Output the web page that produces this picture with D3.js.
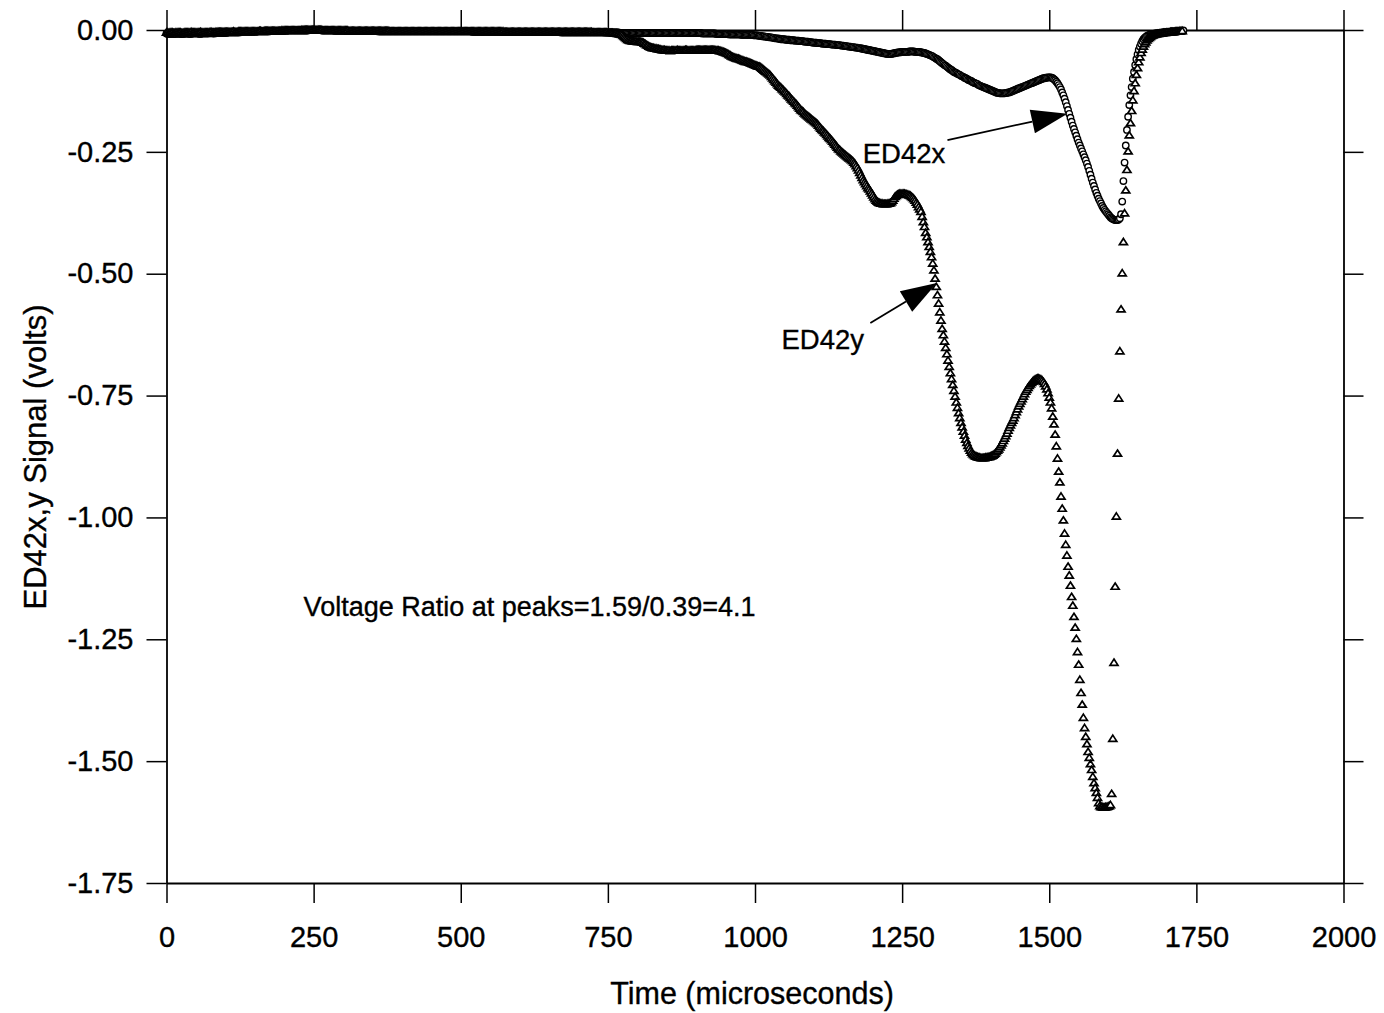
<!DOCTYPE html>
<html>
<head>
<meta charset="utf-8">
<script src="https://cdn.jsdelivr.net/npm/d3@7"></script>
<style>
  html, body { margin: 0; padding: 0; background: #fff; }
  svg { display: block; }
  text { font-family: "Liberation Sans", Arial, Helvetica, sans-serif; fill: #000; stroke: #000; stroke-width: 0.35px; }
</style>
</head>
<body>
<svg id="chart" width="1384" height="1013"></svg>
<script>
// Digitizer record: one sample every 2 microseconds, starting at t = 0.
const sampleIntervalUs = 2;

// ED42x probe signal, millivolts
const ed42xMv = [
  -7,-8,-8,-8,-7,-8,-8,-8,-8,-7,-7,-8,-8,-8,-8,-8,-7,-7,-7,-8,-8,-8,-7,-7,-7,
  -7,-7,-7,-8,-8,-7,-7,-7,-7,-7,-7,-7,-6,-6,-7,-7,-7,-6,-6,-6,-6,-6,-6,-6,-6,
  -6,-6,-5,-5,-5,-5,-5,-5,-5,-5,-5,-5,-5,-4,-4,-4,-4,-4,-4,-4,-4,-4,-4,-4,-4,
  -4,-4,-3,-3,-3,-3,-3,-3,-3,-3,-3,-3,-3,-2,-2,-2,-2,-2,-2,-2,-2,-2,-2,-2,-2,
  -2,-2,-2,-1,-1,-1,-1,-1,-1,-1,-1,-1,-1,-1,-1,-1,-1,-1,-1,-1,-1,0,0,0,0,
  0,0,0,0,0,0,0,-1,-1,-1,-1,-1,-1,-1,-1,-1,-1,-1,-2,-2,-2,-2,-2,-2,-2,
  -2,-2,-2,-2,-2,-2,-2,-2,-2,-2,-2,-2,-2,-2,-2,-2,-2,-2,-2,-2,-2,-2,-2,-2,-2,
  -2,-2,-2,-2,-2,-3,-3,-3,-3,-3,-3,-3,-3,-3,-3,-3,-3,-3,-3,-3,-3,-3,-3,-3,-3,
  -3,-3,-3,-3,-3,-3,-3,-3,-3,-3,-3,-3,-3,-3,-3,-3,-3,-3,-3,-3,-3,-3,-3,-3,-3,
  -3,-3,-3,-3,-3,-3,-3,-3,-3,-3,-3,-3,-3,-3,-3,-3,-3,-3,-3,-3,-3,-3,-3,-3,-3,
  -3,-3,-3,-3,-3,-3,-3,-3,-3,-3,-4,-4,-4,-4,-4,-4,-4,-4,-4,-4,-4,-4,-4,-4,-4,
  -4,-4,-4,-4,-4,-4,-4,-4,-4,-4,-4,-4,-4,-4,-4,-4,-4,-4,-4,-4,-4,-4,-4,-4,-4,
  -4,-4,-4,-4,-4,-4,-4,-4,-4,-4,-4,-4,-4,-4,-4,-4,-4,-4,-4,-4,-4,-4,-4,-4,-4,
  -4,-4,-4,-4,-4,-4,-4,-4,-4,-4,-5,-5,-5,-5,-5,-5,-5,-5,-5,-5,-5,-5,-5,-5,-5,
  -5,-5,-5,-5,-5,-5,-5,-5,-5,-5,-5,-5,-5,-5,-5,-5,-5,-5,-5,-5,-5,-5,-5,-5,-5,
  -5,-5,-5,-5,-5,-5,-5,-5,-5,-5,-6,-6,-6,-6,-6,-6,-6,-6,-6,-6,-6,-6,-6,-6,-6,
  -6,-6,-6,-6,-6,-6,-6,-6,-6,-6,-6,-6,-6,-6,-6,-6,-6,-6,-6,-6,-6,-6,-6,-6,-6,
  -6,-6,-6,-6,-6,-6,-6,-6,-6,-6,-6,-6,-6,-6,-6,-6,-6,-6,-6,-6,-6,-6,-6,-6,-6,
  -6,-6,-6,-6,-6,-7,-7,-7,-7,-7,-7,-7,-7,-7,-7,-7,-7,-8,-8,-8,-8,-8,-8,-8,-8,
  -8,-8,-8,-9,-9,-9,-9,-9,-9,-9,-9,-9,-9,-10,-10,-10,-10,-10,-10,-10,-10,-10,-10,-10,-11,
  -11,-11,-11,-12,-12,-12,-13,-13,-13,-14,-14,-14,-15,-15,-15,-16,-16,-17,-17,-17,-18,-18,-19,-19,-19,
  -19,-20,-20,-20,-20,-21,-21,-21,-21,-22,-22,-22,-22,-23,-23,-23,-23,-24,-24,-24,-24,-25,-25,-25,-26,
  -26,-26,-26,-27,-27,-27,-27,-28,-28,-28,-28,-29,-29,-29,-29,-30,-30,-30,-30,-31,-31,-31,-31,-32,-32,
  -32,-33,-33,-33,-34,-34,-34,-35,-35,-35,-36,-36,-36,-37,-37,-38,-38,-39,-39,-40,-40,-41,-41,-42,-42,
  -43,-43,-44,-44,-45,-45,-46,-46,-47,-47,-48,-48,-49,-49,-49,-49,-49,-48,-48,-47,-47,-46,-46,-46,-45,
  -45,-45,-45,-45,-45,-45,-44,-44,-44,-44,-44,-45,-45,-45,-45,-45,-46,-46,-47,-47,-48,-49,-50,-51,-52,
  -53,-54,-56,-57,-59,-60,-62,-64,-66,-68,-70,-72,-73,-75,-77,-79,-81,-82,-84,-86,-87,-88,-90,-91,-92,
  -94,-95,-96,-98,-99,-100,-102,-103,-104,-105,-107,-108,-109,-110,-111,-113,-114,-115,-116,-117,-118,-119,-120,-121,-122,
  -123,-124,-125,-126,-127,-128,-129,-129,-130,-130,-130,-130,-130,-129,-129,-128,-128,-127,-126,-125,-124,-123,-122,-121,-120,
  -119,-118,-117,-116,-115,-114,-113,-112,-111,-110,-109,-108,-107,-106,-105,-104,-103,-102,-101,-100,-99,-99,-98,-98,-97,
  -97,-97,-98,-99,-101,-103,-106,-109,-113,-117,-122,-128,-134,-141,-148,-156,-164,-172,-180,-188,-196,-203,-210,-217,-224,
  -231,-237,-243,-249,-255,-261,-267,-274,-281,-289,-297,-305,-313,-320,-327,-334,-340,-346,-351,-356,-361,-365,-369,-372,-375,
  -378,-381,-384,-386,-388,-389,-390,-390,-390,-389,-386,-378,-352,-310,-272,-237,-205,-178,-154,-134,-117,-100,-86,-72,-60,
  -50,-41,-34,-28,-23,-19,-16,-14,-12,-11,-10,-9,-9,-8,-8,-7,-7,-7,-6,-6,-6,-5,-5,-5,-5,
  -4,-4,-4,-4,-3,-3,-3,-3,-3,-2,-2,-2,-2,-2,-1
];

// ED42y probe signal, millivolts
const ed42yMv = [
  -5,-5,-6,-5,-5,-5,-6,-6,-5,-5,-5,-5,-5,-6,-6,-5,-5,-5,-5,-5,-5,-4,-5,-5,-5,
  -5,-5,-5,-5,-4,-5,-5,-5,-5,-5,-5,-5,-4,-4,-5,-5,-5,-4,-4,-4,-4,-4,-4,-4,-4,
  -4,-4,-4,-4,-4,-4,-4,-3,-4,-4,-4,-3,-3,-3,-3,-3,-3,-3,-3,-3,-3,-3,-3,-3,-3,
  -3,-3,-3,-3,-2,-2,-3,-3,-2,-2,-2,-2,-2,-2,-2,-2,-2,-2,-2,-2,-2,-2,-2,-1,-1,
  -1,-1,-1,-1,-1,-1,-1,-1,-1,-1,-1,-1,-1,-1,-1,0,0,0,0,0,0,0,0,0,0,
  0,0,0,0,0,0,0,0,-1,-1,-1,-1,-1,-1,-1,-1,-1,-1,-1,-1,-1,-1,-1,-1,-1,
  -1,-1,-1,-1,-1,-2,-2,-2,-2,-2,-2,-2,-2,-2,-2,-2,-2,-2,-2,-2,-2,-2,-2,-2,-2,
  -2,-2,-2,-2,-2,-2,-2,-2,-2,-2,-2,-2,-2,-2,-2,-3,-3,-3,-3,-3,-3,-3,-3,-3,-3,
  -3,-3,-3,-3,-3,-3,-3,-3,-3,-3,-3,-3,-3,-3,-3,-3,-3,-3,-3,-3,-3,-3,-3,-3,-3,
  -3,-3,-3,-3,-3,-3,-3,-3,-3,-3,-3,-3,-3,-3,-3,-3,-3,-3,-3,-3,-3,-3,-3,-3,-3,
  -3,-3,-3,-3,-3,-3,-3,-3,-3,-3,-3,-3,-3,-3,-3,-3,-3,-3,-3,-3,-3,-3,-3,-3,-3,
  -3,-3,-3,-3,-3,-3,-3,-3,-3,-3,-3,-3,-4,-4,-4,-4,-4,-4,-4,-4,-4,-4,-4,-4,-4,
  -4,-4,-4,-4,-4,-4,-4,-4,-4,-4,-4,-4,-4,-4,-4,-4,-4,-4,-4,-4,-4,-4,-4,-4,-4,
  -4,-4,-4,-4,-4,-4,-4,-4,-4,-4,-4,-4,-4,-4,-4,-4,-4,-4,-4,-4,-4,-4,-4,-4,-4,
  -4,-4,-4,-4,-4,-4,-4,-4,-4,-4,-4,-4,-5,-5,-5,-5,-5,-5,-5,-5,-5,-5,
  -5,-5,-5,-6,-6,-6,-6,-6,-7,-7,-7,-8,-8,-9,-9,-10,-12,-14,-16,-18,-20,-21,-22,-22,-23,
  -23,-23,-23,-24,-24,-24,-24,-25,-26,-28,-29,-31,-32,-34,-35,-36,-37,-37,-38,-38,-39,-39,-40,-40,-41,
  -41,-41,-42,-42,-42,-42,-43,-42,-42,-42,-42,-42,-41,-42,-42,-42,-42,-42,-42,-41,-41,-42,-42,-42,-42,
  -42,-42,-42,-41,-41,-41,-41,-41,-41,-41,-41,-41,-41,-41,-41,-41,-41,-41,-41,-41,-42,-42,-42,-43,-43,
  -44,-45,-46,-47,-48,-49,-51,-52,-54,-55,-56,-57,-58,-59,-59,-60,-61,-62,-63,-64,-65,-65,-66,-67,-68,
  -69,-70,-71,-72,-73,-74,-75,-75,-77,-79,-81,-83,-85,-87,-89,-91,-93,-96,-99,-102,-105,-108,-111,-114,-116,
  -118,-121,-123,-126,-128,-131,-134,-136,-139,-142,-144,-147,-150,-152,-155,-158,-161,-164,-166,-168,-171,-173,-175,-177,-179,
  -181,-183,-185,-187,-189,-191,-193,-196,-199,-202,-205,-207,-210,-212,-215,-218,-221,-223,-226,-229,-232,-235,-238,-241,-244,
  -246,-249,-251,-253,-255,-257,-259,-261,-263,-265,-267,-269,-272,-275,-279,-283,-288,-293,-298,-303,-308,-312,-316,-320,-324,
  -327,-331,-335,-339,-343,-347,-350,-352,-354,-355,-356,-356,-357,-357,-357,-357,-356,-356,-355,-353,-350,-346,-342,-340,-338,
  -337,-336,-336,-336,-336,-336,-337,-337,-338,-339,-340,-342,-344,-347,-350,-354,-358,-363,-368,-373,-383,-394,-404,-416,-425,
  -435,-445,-455,-466,-479,-493,-510,-527,-544,-561,-579,-596,-613,-626,-639,-652,-665,-678,-691,-704,-716,-728,-740,-752,-764,
  -775,-786,-796,-806,-815,-824,-832,-840,-847,-853,-858,-863,-867,-870,-872,-874,-875,-876,-877,-877,-878,-878,-878,-878,-877,
  -877,-876,-876,-875,-874,-873,-871,-869,-866,-863,-860,-856,-852,-848,-843,-838,-833,-828,-822,-816,-811,-806,-801,-796,-790,
  -784,-778,-772,-767,-762,-757,-752,-747,-742,-738,-734,-730,-727,-724,-721,-719,-717,-716,-715,-715,-716,-717,-719,-722,-726,
  -731,-737,-745,-754,-764,-776,-793,-809,-830,-854,-879,-906,-928,-957,-982,-1006,-1033,-1056,-1078,-1101,-1119,-1140,-1163,-1181,-1204,
  -1226,-1249,-1276,-1302,-1333,-1360,-1384,-1411,-1432,-1450,-1465,-1481,-1493,-1506,-1518,-1532,-1545,-1555,-1565,-1575,-1586,-1592,-1594,-1594,-1595,
  -1595,-1594,-1594,-1593,-1592,-1590,-1567,-1454,-1298,-1142,-998,-869,-756,-659,-573,-499,-435,-376,-329,-287,-249,-216,-191,-166,-144,
  -125,-109,-92,-78,-66,-56,-47,-40,-34,-29,-25,-21,-18,-16,-14,-12,-11,-10,-9,-9,-8,-8,-7,-7,-7,
  -6,-6,-6,-5,-5,-5,-4,-4,-4,-4,-3,-3,-3,-3,-2,-2,-2
];

const xTickValues = [0, 250, 500, 750, 1000, 1250, 1500, 1750, 2000];
const yTickValues = [0, -0.25, -0.5, -0.75, -1.0, -1.25, -1.5, -1.75];
const yTickLabels = ["0.00", "-0.25", "-0.50", "-0.75", "-1.00", "-1.25", "-1.50", "-1.75"];
const seriesNames = ["ED42x", "ED42y"];
const xAxisTitle = "Time (microseconds)";
const yAxisTitle = "ED42x,y Signal (volts)";
const ratioNote = "Voltage Ratio at peaks=1.59/0.39=4.1";

const svg = d3.select("#chart");
const W = 1384, H = 1013;
const plot = { left: 166.5, right: 1343.5, top: 30, bottom: 883 };

const x = d3.scaleLinear().domain([0, 2000]).range([plot.left, plot.right]);
const y = d3.scaleLinear().domain([-1.75, 0]).range([plot.bottom, plot.top]);

svg.append("rect").attr("width", W).attr("height", H).attr("fill", "#fff");

// Axes on all four sides, ticks pointing outward
const tickLen = 20;
function styleAxis(g) {
  g.selectAll("path.domain").attr("stroke", "#000").attr("stroke-width", 1.8);
  g.selectAll(".tick line").attr("stroke", "#000").attr("stroke-width", 1.5);
  g.selectAll(".tick text").style("font-size", "29px").attr("fill", "#000");
}

svg.append("g")
  .attr("transform", `translate(0,${plot.bottom})`)
  .call(d3.axisBottom(x).tickValues(xTickValues).tickFormat(d3.format("d"))
    .tickSizeInner(tickLen).tickSizeOuter(0).tickPadding(23))
  .call(styleAxis);

svg.append("g")
  .attr("transform", `translate(0,${plot.top})`)
  .call(d3.axisTop(x).tickValues(xTickValues).tickFormat("")
    .tickSizeInner(tickLen).tickSizeOuter(0))
  .call(styleAxis);

svg.append("g")
  .attr("transform", `translate(${plot.left},0)`)
  .call(d3.axisLeft(y).tickValues(yTickValues).tickFormat((d, i) => yTickLabels[i])
    .tickSizeInner(tickLen).tickSizeOuter(0).tickPadding(13))
  .call(styleAxis);

svg.append("g")
  .attr("transform", `translate(${plot.right},0)`)
  .call(d3.axisRight(y).tickValues(yTickValues).tickFormat("")
    .tickSizeInner(tickLen).tickSizeOuter(0))
  .call(styleAxis);

// Axis titles
svg.append("text")
  .attr("x", 752).attr("y", 1004)
  .attr("text-anchor", "middle")
  .style("font-size", "30.5px")
  .text(xAxisTitle);

svg.append("text")
  .attr("transform", "translate(46,457) rotate(-90)")
  .attr("text-anchor", "middle")
  .style("font-size", "31px")
  .text(yAxisTitle);

// Samples
const toPoints = mv => mv.map((v, i) => ({ t: i * sampleIntervalUs, v: v / 1000 }));
const ptsX = toPoints(ed42xMv);
const ptsY = toPoints(ed42yMv);

const marks = svg.append("g");

marks.append("g").selectAll("circle")
  .data(ptsX)
  .join("circle")
  .attr("cx", d => x(d.t))
  .attr("cy", d => y(d.v))
  .attr("r", 3.2)
  .attr("fill", "#fff")
  .attr("stroke", "#000")
  .attr("stroke-width", 1.4);

const triPath = "M0,-3.6L4,2.6L-4,2.6Z";
marks.append("g").selectAll("path")
  .data(ptsY)
  .join("path")
  .attr("d", triPath)
  .attr("transform", d => `translate(${x(d.t)},${y(d.v)})`)
  .attr("fill", "#fff")
  .attr("stroke", "#000")
  .attr("stroke-width", 1.7);

// Series callouts: label, leader line and a solid arrowhead (positions in data units)
const callouts = [
  { name: seriesNames[0], labelT: 1183, labelV: -0.272, tailT: 1327, tailV: -0.226, tipT: 1531, tipV: -0.172 },
  { name: seriesNames[1], labelT: 1045, labelV: -0.655, tailT: 1196, tailV: -0.601, tipT: 1309, tipV: -0.519 }
];

function arrow(g, x0, y0, x1, y1, headLen, headHalf) {
  const dx = x1 - x0, dy = y1 - y0, L = Math.hypot(dx, dy);
  const ux = dx / L, uy = dy / L;
  const bx = x1 - ux * headLen, by = y1 - uy * headLen;
  g.append("line")
    .attr("x1", x0).attr("y1", y0).attr("x2", bx).attr("y2", by)
    .attr("stroke", "#000").attr("stroke-width", 1.8);
  g.append("path")
    .attr("d", `M${x1},${y1}L${bx - uy * headHalf},${by + ux * headHalf}L${bx + uy * headHalf},${by - ux * headHalf}Z`)
    .attr("fill", "#000");
}

const ann = svg.append("g");
callouts.forEach(c => {
  ann.append("text")
    .attr("x", x(c.labelT)).attr("y", y(c.labelV))
    .style("font-size", "27.5px")
    .text(c.name);
  arrow(ann, x(c.tailT), y(c.tailV), x(c.tipT), y(c.tipV), 36, 12);
});

svg.append("text")
  .attr("x", x(233)).attr("y", y(-1.202))
  .style("font-size", "27px")
  .text(ratioNote);
</script>
</body>
</html>
